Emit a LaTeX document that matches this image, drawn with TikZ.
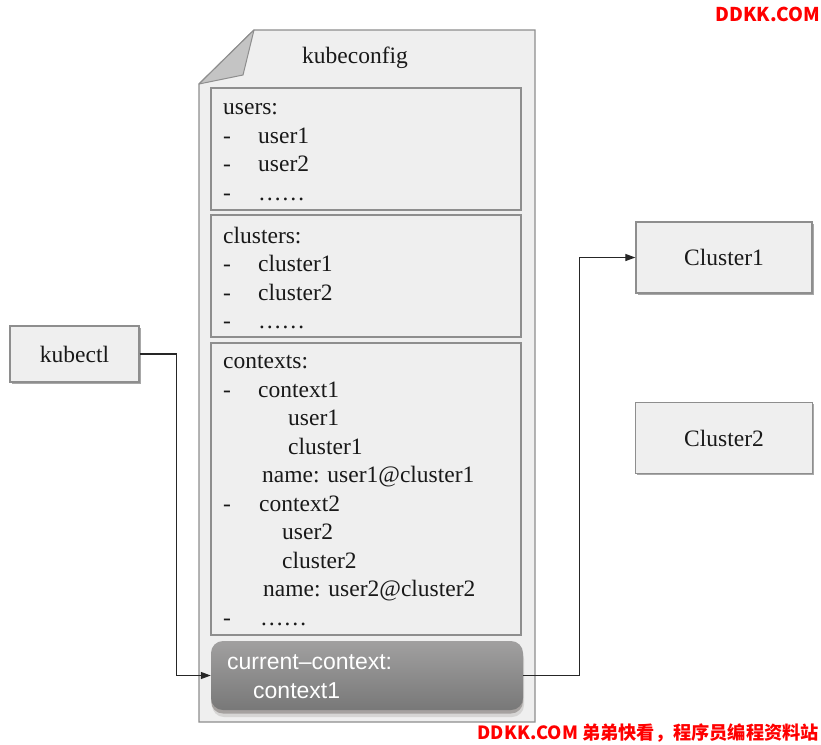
\documentclass[tikz,border=0pt]{standalone}
\usepackage{fontspec}
\setmainfont{Liberation Serif}
\setsansfont{Liberation Sans}
\newfontfamily\cjk{Noto Sans CJK SC}
\usetikzlibrary{arrows.meta}
\definecolor{boxfill}{HTML}{EFEFEF}
\definecolor{boxline}{HTML}{8E8E8E}
\definecolor{boxshade}{HTML}{A8A8A8}
\definecolor{foldfill}{HTML}{C4C4C4}
\definecolor{cctop}{HTML}{A1A0A0}
\definecolor{ccbot}{HTML}{787878}
\definecolor{ccshadow}{HTML}{4A423F}
\definecolor{wmred}{HTML}{FF0000}
\begin{document}
\begin{tikzpicture}[x=1pt,y=-1pt,
  plainbox/.style={draw=boxline, fill=boxfill, line width=1.3pt, inner sep=0pt},
  sectbox/.style={draw=boxline, fill=boxfill, line width=1.1pt, inner sep=0pt, minimum width=310pt},
  txt/.style={anchor=base west, inner sep=0pt, font=\fontsize{23.5}{28}\selectfont, text=black!90},
  boxtxt/.style={font=\fontsize{23.5}{28}\selectfont, text=black!90},
  cctxt/.style={anchor=base west, inner sep=0pt, font=\sffamily\fontsize{23}{28}\selectfont, text=white},
  conn/.style={draw=black!85, line width=1.2pt},
  tip/.style={-{Triangle[length=10pt,width=7pt]}},
  wm/.style={inner sep=0pt, text=wmred, font=\cjk\bfseries\fontsize{19}{22}\selectfont},
  wmsmall/.style={inner sep=0pt, text=wmred, font=\cjk\bfseries\fontsize{18.2}{22}\selectfont}
]
\useasboundingbox (0,0) rectangle (821,744);
\fill[white] (0,0) rectangle (821,744);

% document
\draw[draw=boxline, fill=boxfill, line width=1.3pt] (254,30) -- (535,30) -- (535,722) -- (199,722) -- (199,84) -- cycle;
\draw[draw=boxline, fill=foldfill, line width=1pt, line join=round] (199,84) -- (243,75) -- (254,30) -- cycle;
\node[boxtxt, anchor=base] (title) at (355,63) {kubeconfig};

% sections
\node[sectbox, minimum height=122pt] (users) at (366,149) {};
\node[sectbox, minimum height=122pt] (clusters) at (366,276) {};
\node[sectbox, minimum height=292pt] (contexts) at (366,489) {};

% users
\node[txt] (u0) at (223,114) {users:};
\node[txt] (u1d) at (223,143) {-};
\node[txt] (u1) at (258,143) {user1};
\node[txt] (u2d) at (223,171.5) {-};
\node[txt] (u2) at (258,171.5) {user2};
\node[txt] (u3d) at (223,200) {-};
\node[txt] (u3) at (258,200) {……};

% clusters
\node[txt] (c0) at (223,243) {clusters:};
\node[txt] (c1d) at (223,271.5) {-};
\node[txt] (c1) at (258,271.5) {cluster1};
\node[txt] (c2d) at (223,300) {-};
\node[txt] (c2) at (258,300) {cluster2};
\node[txt] (c3d) at (223,328.5) {-};
\node[txt] (c3) at (258,328.5) {……};

% contexts
\node[txt] (x0) at (223,368) {contexts:};
\node[txt] (x1d) at (223,397) {-};
\node[txt] (x1) at (258,397) {context1};
\node[txt] (x1u) at (288,425.5) {user1};
\node[txt] (x1c) at (288,454) {cluster1};
\node[txt] (x1n) at (262,482.5) {name: user1@cluster1};
\node[txt] (x2d) at (223,511) {-};
\node[txt] (x2) at (259,511) {context2};
\node[txt] (x2u) at (282,539.5) {user2};
\node[txt] (x2c) at (282,568) {cluster2};
\node[txt] (x2n) at (263,596.5) {name: user2@cluster2};
\node[txt] (x3d) at (223,625) {-};
\node[txt] (x3) at (260,625) {……};

% current-context
\fill[ccshadow, opacity=0.15, rounded corners=12pt] (212,647) rectangle (524,717);
\fill[ccshadow, opacity=0.35, rounded corners=12pt] (211,644) rectangle (523,713.5);
\node[rounded corners=12pt, top color=cctop, bottom color=ccbot, draw=none,
  minimum width=312pt, minimum height=69pt, inner sep=0pt] (current) at (367,675.5) {};
\node[cctxt] (cc1) at (227,669) {current–context:};
\node[cctxt] (cc2) at (253,698) {context1};

% outer boxes (thin shade on lower right edges)
\fill[boxshade] (11.5,327.5) rectangle (140.5,383.5);
\node[plainbox, boxtxt, minimum width=129pt, minimum height=56pt] (kubectl) at (74.5,354) {kubectl};
\fill[boxshade] (637.5,223.5) rectangle (813.5,294.5);
\node[plainbox, boxtxt, minimum width=176pt, minimum height=71pt] (cluster1) at (724,257.5) {Cluster1};
\fill[boxshade] (637,404) rectangle (814,475);
\node[plainbox, boxtxt, minimum width=177pt, minimum height=71pt] (cluster2) at (724,438) {Cluster2};

% connectors
\draw[conn, tip] (kubectl.east) -- ++(37,0) |- (current.west);
\draw[conn, tip] (current.east) -- ++(56,0) |- (cluster1.west);

% watermarks
\node[wm] (wm1) at (768,14) {DDKK.COM};
\node[wmsmall, anchor=east] (wm2) at (819,733) {DDKK.COM 弟弟快看，程序员编程资料站};
\end{tikzpicture}
\end{document}
